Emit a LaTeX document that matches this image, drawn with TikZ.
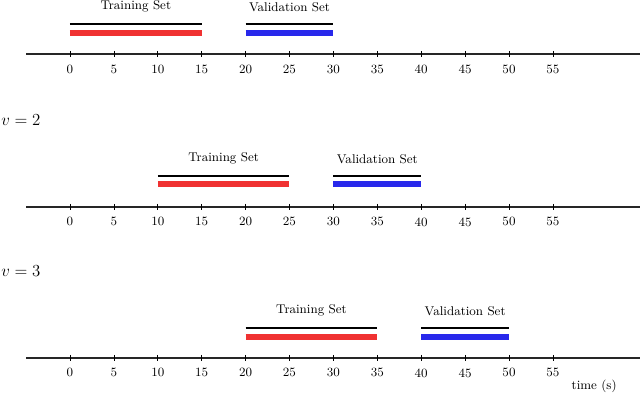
\documentclass[tikz,border=0pt]{standalone}
\usepackage{xcolor}
\usepackage{tikz}
\usetikzlibrary{positioning}
\definecolor{trainred}{RGB}{240,50,50}
\definecolor{validblue}{RGB}{40,40,235}
\tikzset{
  axisline/.style={line width=1.1pt, black!85},
  tickmark/.style={line width=0.5pt},
  ticklabel/.style={font=\small, below=4pt},
  spanline/.style={line width=1.1pt, black},
  trainbar/.style={line width=4pt, trainred},
  validbar/.style={line width=4pt, validblue},
  setlabel/.style={font=\small, above=5pt},
  runlabel/.style={anchor=west, inner sep=0pt, font=\fontsize{13}{15}\selectfont}
}

\begin{document}
\begin{tikzpicture}[x=0.2195cm, y=0.025cm]
\useasboundingbox (-7.97,0) rectangle (64.92,-393);
% one row per run: axis y / span line y / bar y / train from-to / valid from-to / run
\foreach \ay/\ly/\by/\ts/\te/\vs/\ve/\r in {54/24/33/0/15/20/30/1, 207/176/184/10/25/30/40/2, 358/328/337/20/35/40/50/3} {
  \coordinate (a\r) at (-5,-\ay);
  \coordinate (b\r) at (65,-\ay);
  \draw[axisline] (a\r) -- (b\r);
  \foreach \t in {0,5,...,55} {
    \draw[tickmark] (\t,-\ay+3) -- (\t,-\ay-3);
    \node[ticklabel] (t\r-\t) at (\t,-\ay) {\t};
  }
  % training window
  \coordinate (ts\r) at (\ts,-\ly);
  \coordinate (te\r) at (\te,-\ly);
  \draw[spanline] (ts\r) -- (te\r);
  \draw[trainbar] (\ts,-\by) -- (\te,-\by);
  \node[setlabel] (tl\r) at ({(\ts+\te)/2},-\ly) {Training Set};
  % validation window
  \coordinate (vs\r) at (\vs,-\ly);
  \coordinate (ve\r) at (\ve,-\ly);
  \draw[spanline] (vs\r) -- (ve\r);
  \draw[validbar] (\vs,-\by) -- (\ve,-\by);
  \node[setlabel] (vl\r) at ({(\vs+\ve)/2},-\ly) {Validation Set};
}
\node[runlabel] (v2) at (-7.85,-120) {$v=2$};
\node[runlabel] (v3) at (-7.85,-271) {$v=3$};
\node[font=\small] (tlabel) at (59.7,-386) {time (s)};
\end{tikzpicture}
\end{document}
